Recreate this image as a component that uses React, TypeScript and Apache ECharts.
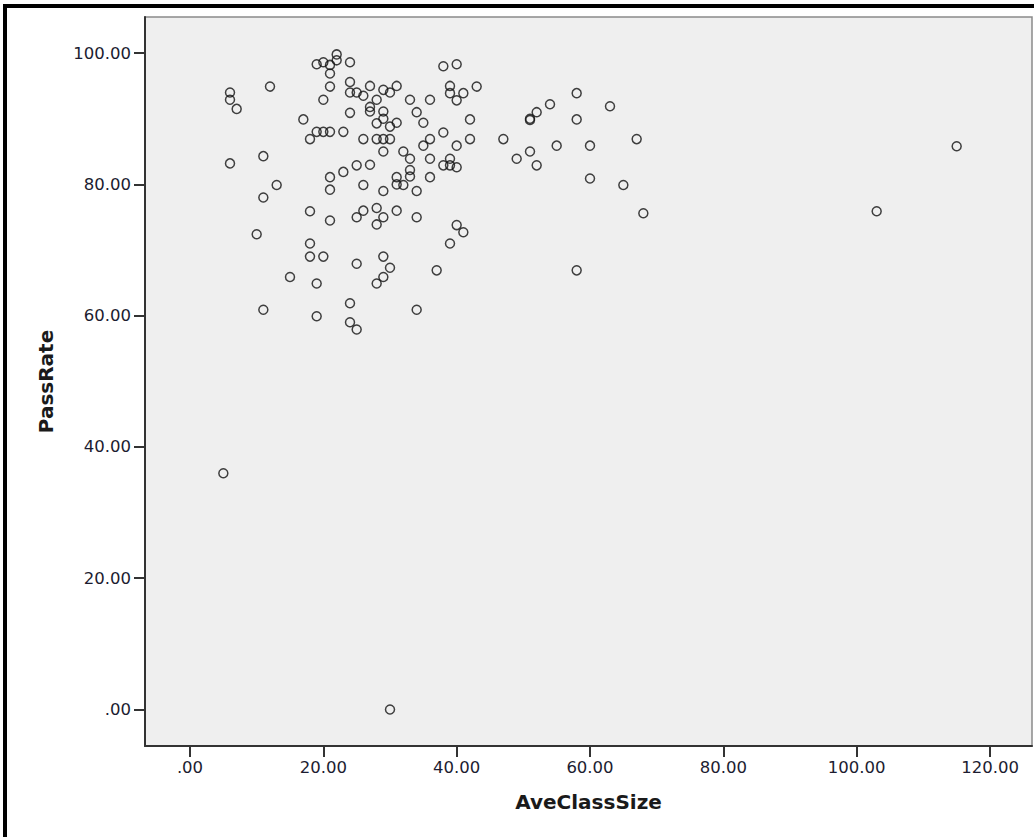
import React, { useEffect, useRef } from "react";
import * as echarts from "echarts";

// AveClassSize values (x)
const aveClassSize = [
  19, 20, 21, 22, 22, 24, 21, 21, 20, 12,
  6, 6, 7, 17, 19, 20, 21, 18, 11, 6,
  24, 24, 25, 26, 27, 29, 30, 31, 28, 27,
  27, 29, 29, 28, 30, 31, 24, 33, 34, 35,
  36, 38, 40, 39, 39, 41, 40, 43, 42, 42,
  40, 38, 36, 35, 23, 26, 28, 29, 30, 29,
  32, 33, 36, 39, 38, 39, 40, 25, 27, 23,
  21, 31, 33, 33, 36, 58, 54, 52, 51, 51,
  63, 58, 47, 67, 55, 60, 51, 49, 52, 60,
  65, 68, 58, 13, 11, 21, 18, 21, 10, 18,
  18, 20, 15, 19, 11, 19, 26, 29, 31, 32,
  34, 25, 26, 28, 29, 28, 31, 34, 40, 41,
  39, 25, 29, 30, 29, 28, 37, 24, 34, 24,
  25, 5, 30, 103, 115,
];

// PassRate values (y)
const passRate = [
  98.3, 98.6, 98.2, 99.8, 98.9, 98.6, 96.9, 94.9, 92.9, 94.9,
  94.0, 92.9, 91.5, 89.9, 88.0, 88.0, 88.0, 86.9, 84.3, 83.2,
  95.6, 94.0, 94.0, 93.5, 95.0, 94.4, 94.0, 95.0, 92.9, 91.8,
  91.1, 91.1, 90.0, 89.3, 88.8, 89.4, 90.9, 92.9, 91.0, 89.4,
  92.9, 98.0, 98.3, 95.0, 93.9, 93.9, 92.8, 94.9, 89.9, 86.9,
  85.9, 87.9, 86.9, 85.9, 88.0, 86.9, 86.9, 86.9, 86.9, 85.0,
  85.0, 83.9, 83.9, 83.9, 82.9, 82.9, 82.6, 82.9, 83.0, 81.9,
  81.1, 81.1, 82.2, 81.2, 81.1, 93.9, 92.2, 91.0, 89.8, 90.0,
  91.9, 89.9, 86.9, 86.9, 85.9, 85.9, 85.0, 83.9, 82.9, 80.9,
  79.9, 75.6, 66.9, 79.9, 78.0, 79.2, 75.9, 74.5, 72.4, 71.0,
  69.0, 69.0, 65.9, 64.9, 60.9, 59.9, 79.9, 79.0, 80.0, 79.9,
  79.0, 75.0, 76.0, 76.4, 75.0, 73.9, 76.0, 75.0, 73.8, 72.7,
  71.0, 67.9, 69.0, 67.3, 65.9, 64.9, 66.9, 61.9, 60.9, 59.0,
  57.9, 36.0, 0.0, 75.9, 85.8,
];

const xTicks = [0, 20, 40, 60, 80, 100, 120];
const yTicks = [0, 20, 40, 60, 80, 100];

const fmt = (v: number) => (v === 0 ? ".00" : Number(v).toFixed(2));

export default function App() {
  const ref = useRef<HTMLDivElement>(null);

  useEffect(() => {
    if (!ref.current) return;
    const chart = echarts.init(ref.current, undefined, { renderer: "svg" });
    const data = aveClassSize.map((x, i) => [x, passRate[i]]);
    const labelStyle = {
      fontFamily: "DejaVu Sans",
      fontSize: 16.5,
      color: "#1c1c30",
    };
    const titleStyle = {
      fontFamily: "DejaVu Sans",
      fontWeight: "bold",
      fontSize: 20,
      color: "#1a1a1a",
    };
    chart.setOption({
      animation: false,
      backgroundColor: "#ffffff",
      grid: {
        left: 145,
        top: 17,
        right: 2,
        bottom: 91,
        show: true,
        backgroundColor: "#efefef",
        borderColor: "#8a8a8a",
        borderWidth: 1.5,
      },
      xAxis: {
        type: "value",
        min: -6.75,
        max: 126.3,
        name: "AveClassSize",
        nameLocation: "middle",
        nameGap: 46,
        nameTextStyle: titleStyle,
        axisLine: { show: true, onZero: false, lineStyle: { color: "#333", width: 2 } },
        axisTick: {
          show: true,
          length: 11,
          customValues: xTicks,
          lineStyle: { color: "#333", width: 2 },
        },
        axisLabel: {
          ...labelStyle,
          margin: 13,
          customValues: xTicks,
          formatter: (v: number) => fmt(v),
        },
        splitLine: { show: false },
      },
      yAxis: {
        type: "value",
        min: -5.56,
        max: 105.5,
        name: "PassRate",
        nameLocation: "middle",
        nameGap: 89,
        nameTextStyle: titleStyle,
        axisLine: { show: true, onZero: false, lineStyle: { color: "#333", width: 2 } },
        axisTick: {
          show: true,
          length: 11,
          customValues: yTicks,
          lineStyle: { color: "#333", width: 2 },
        },
        axisLabel: {
          ...labelStyle,
          margin: 14,
          customValues: yTicks,
          formatter: (v: number) => fmt(v),
        },
        splitLine: { show: false },
      },
      graphic: [
        {
          type: "rect",
          shape: { x: 3, y: 4, width: 4, height: 833 },
          style: { fill: "#000" },
        },
        {
          type: "rect",
          shape: { x: 3, y: 4, width: 1031, height: 4 },
          style: { fill: "#000" },
        },
      ],
      series: [
        {
          type: "scatter",
          data,
          symbol: "circle",
          symbolSize: 9,
          itemStyle: {
            color: "rgba(0,0,0,0)",
            borderColor: "#111",
            borderWidth: 1.5,
          },
        },
      ],
    });
    return () => chart.dispose();
  }, []);

  return (
    <div
      ref={ref}
      style={{ position: "absolute", left: 0, top: 0, width: 1034, height: 837, background: "#fff" }}
    />
  );
}
